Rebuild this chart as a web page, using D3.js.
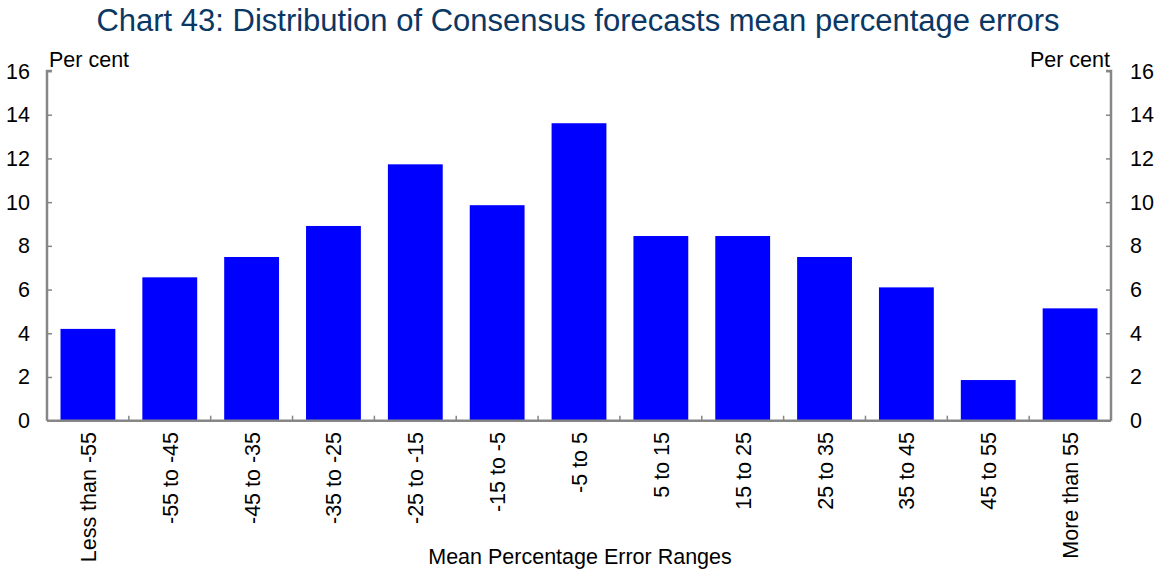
<!DOCTYPE html>
<html><head><meta charset="utf-8">
<script src="https://cdn.jsdelivr.net/npm/d3@7"></script>
<style>body{margin:0;background:#fff;} text{font-family:Arial,"Liberation Sans",sans-serif;}</style>
</head><body>
<svg id="c" width="1156" height="571"></svg>
<script>
const categories = ["Less than -55","-55 to -45","-45 to -35","-35 to -25","-25 to -15","-15 to -5","-5 to 5","5 to 15","15 to 25","25 to 35","35 to 45","45 to 55","More than 55"];
const values = [4.20, 6.56, 7.49, 8.91, 11.73, 9.86, 13.61, 8.45, 8.45, 7.49, 6.10, 1.86, 5.14];
const yTicks = [0,2,4,6,8,10,12,14,16];
const title = "Chart 43: Distribution of Consensus forecasts mean percentage errors";
const unitLabel = "Per cent";
const xTitle = "Mean Percentage Error Ranges";

const svg = d3.select("#c");
const L = 47, R = 1111, T = 71, B = 420.7;
const FS = 21.5;
const x = d3.scaleBand().domain(categories).range([L, R]).paddingInner(0.33).paddingOuter(0.165);
const xb = d3.scaleBand().domain(categories).range([L, R]);
const y = d3.scaleLinear().domain([0,16]).range([B, T]);
const axisCol = "#868686";

svg.append("text").attr("x", 578).attr("y", 31).attr("text-anchor","middle")
  .attr("font-size", 31).attr("fill", "#0b3764").text(title);

svg.selectAll("rect.bar").data(values).enter().append("rect")
  .attr("x", (d,i)=>x(categories[i])).attr("width", x.bandwidth())
  .attr("y", d=>y(d)).attr("height", d=>B-y(d)).attr("fill", "#0000ff");

const gl = svg.append("g").attr("transform", `translate(${L},0)`)
  .call(d3.axisRight(y).tickValues(yTicks).tickSize(5).tickFormat(""));
const gr = svg.append("g").attr("transform", `translate(${R},0)`)
  .call(d3.axisLeft(y).tickValues(yTicks).tickSize(5).tickFormat(""));
gl.select(".domain").attr("stroke", axisCol).attr("stroke-width",2.5).attr("d", `M5,${T}H0V${B}`);
gr.select(".domain").attr("stroke", axisCol).attr("stroke-width",2.5).attr("d", `M-5,${T}H0V${B}`);
[gl, gr].forEach(g=> g.selectAll(".tick line").attr("stroke", axisCol).attr("stroke-width",1.5));

svg.selectAll("text.yl").data(yTicks).enter().append("text")
  .attr("x", 30).attr("y", d=>y(d)+7.5).attr("text-anchor","end").attr("font-size",FS).text(d=>d);
svg.selectAll("text.yr").data(yTicks).enter().append("text")
  .attr("x", 1130).attr("y", d=>y(d)+7.5).attr("text-anchor","start").attr("font-size",FS).text(d=>d);

svg.append("text").attr("x", 49).attr("y", 67).attr("font-size",FS).text(unitLabel);
svg.append("text").attr("x", 1110).attr("y", 67).attr("text-anchor","end").attr("font-size",FS).text(unitLabel);

const gx = svg.append("g").attr("transform", `translate(0,${B})`)
  .call(d3.axisTop(xb).tickSize(0).tickFormat(""));
gx.select(".domain").attr("stroke", axisCol).attr("stroke-width",2.5).attr("d", `M${L},0H${R}`);
gx.selectAll(".tick line").remove();
svg.selectAll("line.xt").data(categories.slice(1)).enter().append("line")
  .attr("x1", d=>xb(d)).attr("x2", d=>xb(d)).attr("y1", B).attr("y2", B-5)
  .attr("stroke", axisCol).attr("stroke-width",1.5);

svg.selectAll("text.xl").data(categories).enter().append("text")
  .attr("transform", d=>`translate(${xb(d)+xb.bandwidth()/2+8},${432}) rotate(-90)`)
  .attr("text-anchor","end").attr("font-size",FS).text(d=>d);

svg.append("text").attr("x", 580).attr("y", 564).attr("text-anchor","middle").attr("font-size",FS).text(xTitle);
</script>
</body></html>
